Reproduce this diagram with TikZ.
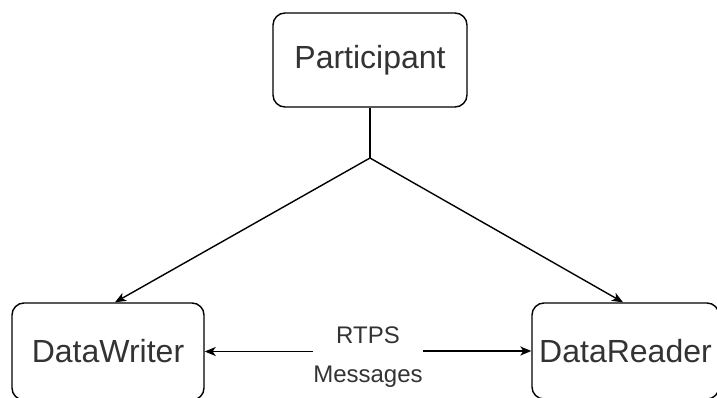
\documentclass[tikz,border=0pt]{standalone}
\usepackage{fontspec}
\setmainfont{Liberation Sans}
\usetikzlibrary{arrows.meta,calc}
\definecolor{txt}{HTML}{333333}
\tikzset{
  box/.style={draw=black, line width=1.4pt, rounded corners=12pt, fill=white, text=txt,
    font=\fontsize{32}{38}\selectfont, inner sep=0pt},
  conn/.style={draw=black, line width=1.4pt},
  arr/.style={conn, -{Stealth[length=11pt,width=9pt,inset=3pt]}},
  lbl/.style={text=txt, font=\fontsize{24}{39}\selectfont, align=center, inner sep=0pt}
}
\begin{document}
\begin{tikzpicture}[x=1pt,y=-1pt]
\useasboundingbox (0,0) rectangle (717,398);
\begin{scope}
\clip (0,0) rectangle (717,398);
\node[box, minimum width=194pt, minimum height=94pt] (p) at (370,60) {Participant};
\node[box, minimum width=192pt, minimum height=97pt] (dw) at (108,351.5) {DataWriter};
\node[box, minimum width=187pt, minimum height=96pt] (dr) at (625.5,351) {DataReader};
\node[lbl] (m) at (368,357) {RTPS\\Messages};
\coordinate (j) at (370,158);
\draw[conn] (p.south) -- (j);
\draw[arr] (j) -- ([xshift=7pt]dw.north);
\draw[arr] (j) -- ([xshift=-2.5pt]dr.north);
\draw[arr] (m.west |- dw.east) -- (dw.east);
\draw[arr] (m.east |- dr.west) -- (dr.west);
\end{scope}
\end{tikzpicture}
\end{document}
